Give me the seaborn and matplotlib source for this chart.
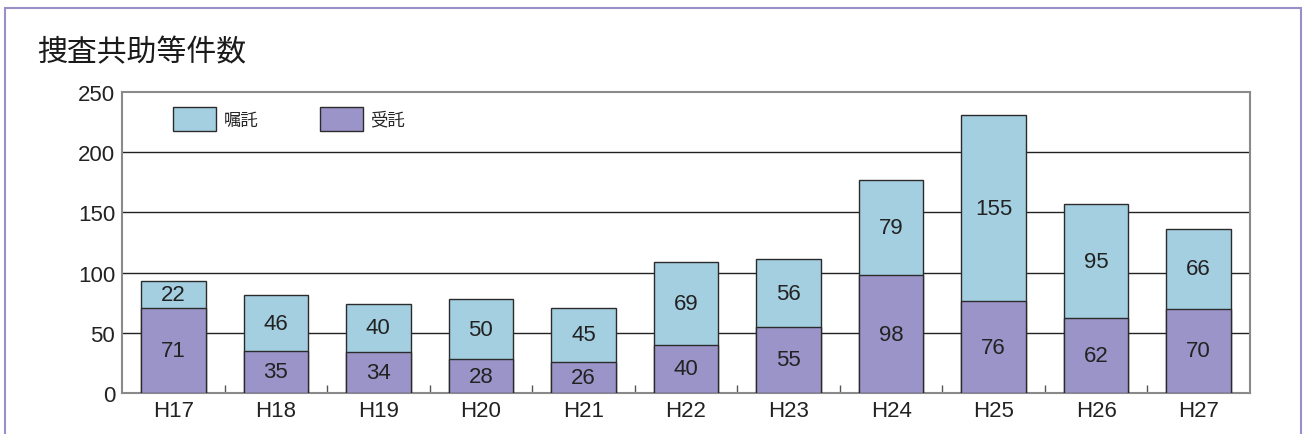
import matplotlib
matplotlib.use("Agg")
import matplotlib.pyplot as plt
from matplotlib.patches import Rectangle, Patch
import seaborn as sns
import pandas as pd

years = ["H17", "H18", "H19", "H20", "H21", "H22", "H23", "H24", "H25", "H26", "H27"]
shokutaku = [22, 46, 40, 50, 45, 69, 56, 79, 155, 95, 66]   # 嘱託
jutaku = [71, 35, 34, 28, 26, 40, 55, 98, 76, 62, 70]        # 受託
title = "捜査共助等件数"
legend_labels = ["嘱託", "受託"]

sns.set_theme(style="white")
plt.rcParams['font.family'] = ['Liberation Sans', 'Noto Sans CJK JP']

blue = "#A3CFE1"
purple = "#9B94C8"
edge = "#2b2b2b"

df = pd.DataFrame({"year": years, "shokutaku": shokutaku, "jutaku": jutaku})
df["total"] = df["shokutaku"] + df["jutaku"]

fig = plt.figure(figsize=(13.03, 4.35), dpi=100)
ax = fig.add_axes([122/1303, 1 - 394/435, 1128/1303, 301/435])

sns.barplot(data=df, x="year", y="total", color=blue, edgecolor=edge, linewidth=1,
            width=0.63, saturation=1, ax=ax, zorder=3)
sns.barplot(data=df, x="year", y="jutaku", color=purple, edgecolor=edge, linewidth=1,
            width=0.63, saturation=1, ax=ax, zorder=3)

ax.set_ylim(0, 250)
ax.set_xlim(-0.5, len(years) - 0.5)
ax.set_yticks([0, 50, 100, 150, 200, 250])
ax.set_xlabel("")
ax.set_ylabel("")
for y in [50, 100, 150, 200]:
    ax.axhline(y, color="#222222", lw=1, zorder=1)
for s in ax.spines.values():
    s.set_color("#8a8a8a")
    s.set_linewidth(1.5)
ax.tick_params(axis="both", labelsize=16, colors="#222222", length=0, pad=5)
ax.set_xticks(range(len(years)))
ax.set_xticklabels(years)
ax.set_xticks([i + 0.5 for i in range(len(years) - 1)], minor=True)
ax.tick_params(axis="x", which="minor", direction="in", length=6, width=1, color="#555555", bottom=True)

for i, (a, b) in enumerate(zip(jutaku, shokutaku)):
    ax.text(i, a / 2, str(a), ha="center", va="center", fontsize=16, color="#222222", zorder=4)
    ax.text(i, a + b / 2, str(b), ha="center", va="center", fontsize=16, color="#222222", zorder=4)

handles = [Patch(facecolor=blue, edgecolor=edge, lw=1), Patch(facecolor=purple, edgecolor=edge, lw=1)]
ax.legend(handles, legend_labels, loc="upper left", bbox_to_anchor=(0.0455, 0.95), ncol=2,
          frameon=False, fontsize=12.5, handlelength=2.47, handleheight=1.75, handletextpad=0.46,
          columnspacing=3.5, borderpad=0, borderaxespad=0)

fig.text(37/1303, 1 - 53/435, title, fontsize=21.5, va="center", ha="left", color="#1a1a1a")

fig.add_artist(Rectangle((5/1303, -0.1), (1301 - 5)/1303, 1.1 - 9/435, transform=fig.transFigure,
                         fill=False, edgecolor="#9C8FC8", lw=1.5))

fig.savefig("out.png", dpi=100)
